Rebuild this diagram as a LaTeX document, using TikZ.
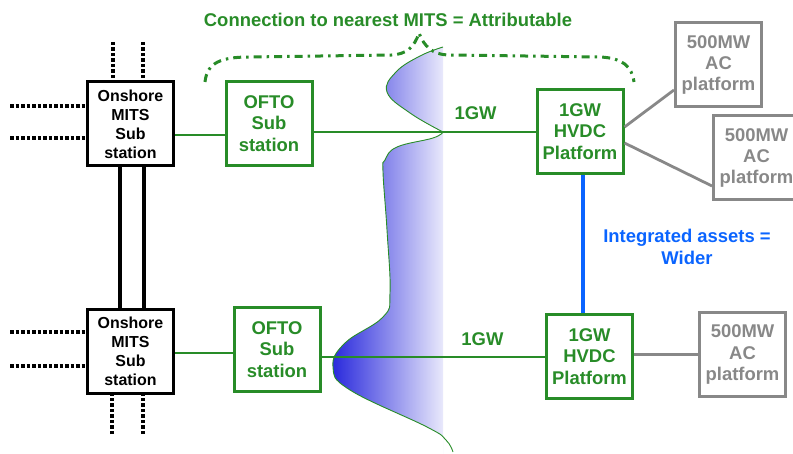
\documentclass[tikz,border=0pt]{standalone}
\usepackage{fontspec}
\setmainfont{Liberation Sans}
\definecolor{ofgreen}{RGB}{40,140,40}
\definecolor{acgray}{RGB}{136,136,136}
\definecolor{widerblue}{RGB}{10,100,255}
\definecolor{seadark}{RGB}{40,40,220}
\definecolor{seamid}{RGB}{188,188,238}
\definecolor{sealight}{RGB}{250,250,254}

\begin{document}
\begin{tikzpicture}[x=1bp,y=-1bp,semithick,
    every node/.style={font=\fontsize{18.5}{21.5}\selectfont\bfseries,align=center,inner sep=0pt},
    box/.style={draw,line width=3bp,minimum width=86bp,minimum height=84bp}]
  \tikzstyle{onshore}=[box,draw=black,font=\fontsize{16}{19}\selectfont\bfseries]
  \tikzstyle{ofto}=[box,draw=ofgreen,text=ofgreen]
  \tikzstyle{acplat}=[box,draw=acgray,text=acgray]
  \tikzstyle{feeder}=[line width=3.5bp,dash pattern=on 3.5bp off 2bp]
  \tikzstyle{link}=[line width=2.8bp,draw=ofgreen]
  \tikzstyle{aclink}=[line width=2.8bp,draw=acgray]
  \tikzstyle{coast}=[draw=ofgreen,line width=0.9bp]

  \useasboundingbox (0,0) rectangle (793,454);

  % sea / coastline
  \begin{scope}
    \clip (320,30) rectangle (443,454);
    \shade[left color=seadark,middle color=seamid,right color=sealight]
      plot[smooth,tension=0.7] coordinates {(443,47) (420,56) (396,72) (387,92) (410,113) (443,132)}
      -- plot[smooth,tension=0.7] coordinates {(443,132) (433,138) (397,147) (385,160) (383,172) (387,230) (390,293) (383,317) (345,343) (333,367) (350,390) (427,427) (446,440) (453,452)}
      -- (443,454) -- (443,47) -- cycle;
  \end{scope}
  \draw[coast] plot[smooth,tension=0.7] coordinates {(443,47) (420,56) (396,72) (387,92) (410,113) (443,132)};
  \draw[coast] plot[smooth,tension=0.7] coordinates {(443,132) (433,138) (397,147) (385,160) (383,172) (387,230) (390,293) (383,317) (345,343) (333,367) (350,390) (427,427) (446,440) (453,452)};

  \node[onshore]  (on1)   at (130.5,124)   {Onshore\\MITS\\Sub\\station};
  \node[onshore]  (on2)   at (130.5,351.5) {Onshore\\MITS\\Sub\\station};
  \node[ofto]     (ofto1) at (269,123.5)   {OFTO\\Sub\\station};
  \node[ofto]     (ofto2) at (277,349.5)   {OFTO\\Sub\\station};
  \node[ofto]     (hvdc1) at (580,131.5)   {1GW\\HVDC\\Platform};
  \node[ofto]     (hvdc2) at (589.5,356.5) {1GW\\HVDC\\Platform};
  \node[acplat]   (ac1)   at (718.5,65)    {500MW\\AC\\platform};
  \node[acplat]   (ac2)   at (756.5,158)   {500MW\\AC\\platform};
  \node[acplat]   (ac3)   at (742.5,354.5) {500MW\\AC\\platform};

  \node[text=ofgreen]   (title) at (388,20)  {Connection to nearest MITS = Attributable};
  \node[text=widerblue] (wider) at (687,247) {Integrated assets =\\Wider};

  % existing network
  \coordinate (f1) at (10,106);
  \coordinate (f2) at (10,138);
  \coordinate (f3) at (10,332);
  \coordinate (f4) at (10,366);
  \coordinate (t1) at (113,42);
  \coordinate (t2) at (143,42);
  \coordinate (b1) at (112,434);
  \coordinate (b2) at (143,434);
  \draw[feeder] (f1) -- (f1 -| on1.west);
  \draw[feeder] (f2) -- (f2 -| on1.west);
  \draw[feeder] (f3) -- (f3 -| on2.west);
  \draw[feeder] (f4) -- (f4 -| on2.west);
  \draw[feeder] (t1) -- (t1 |- on1.north);
  \draw[feeder] (t2) -- (t2 |- on1.north);
  \draw[feeder] (b1) -- (b1 |- on2.south);
  \draw[feeder] (b2) -- (b2 |- on2.south);
  \draw[line width=3.2bp] ([xshift=-10.5bp]on1.south) -- ([xshift=-10.5bp]on2.north);
  \draw[line width=3.2bp] ([xshift=13.5bp]on1.south) -- ([xshift=13.5bp]on2.north);

  % offshore links
  \draw[link] ([yshift=-11bp]on1.east) -- ([yshift=-11bp]on1.east -| ofto1.west);
  \draw[link] ([yshift=-8.5bp]ofto1.east) -- node[pos=0.73,above=11bp,text=ofgreen] {1GW}
              ([yshift=-8.5bp]ofto1.east -| hvdc1.west);
  \draw[link] ([yshift=-1.5bp]on2.east) -- ([yshift=-1.5bp]on2.east -| ofto2.west);
  \draw[link] ([yshift=-7.5bp]ofto2.east) -- node[pos=0.72,above=10bp,text=ofgreen] {1GW}
              ([yshift=-7.5bp]ofto2.east -| hvdc2.west);
  \draw[aclink] ([yshift=4.5bp]hvdc1.east) -- ([yshift=-25bp]ac1.west);
  \draw[aclink] ([yshift=-11.5bp]hvdc1.east) -- ([yshift=-28bp]ac2.west);
  \draw[aclink] ([yshift=2bp]hvdc2.east) -- ([yshift=2bp]hvdc2.east -| ac3.west);
  \draw[widerblue,line width=4bp] ([xshift=3bp]hvdc1.south) -- ([xshift=3bp]hvdc1.south |- hvdc2.north);

  % brace
  \draw[ofgreen,line width=3bp,dash pattern=on 8bp off 5bp on 2.5bp off 5bp]
    (205,82) .. controls (207,62) and (222,57) .. (250,57) -- (392,55)
    .. controls (406,54) and (414,48) .. (419,33)
    .. controls (424,46) and (432,55) .. (450,55) -- (600,57)
    .. controls (622,58) and (632,66) .. (634,82);
\end{tikzpicture}
\end{document}
